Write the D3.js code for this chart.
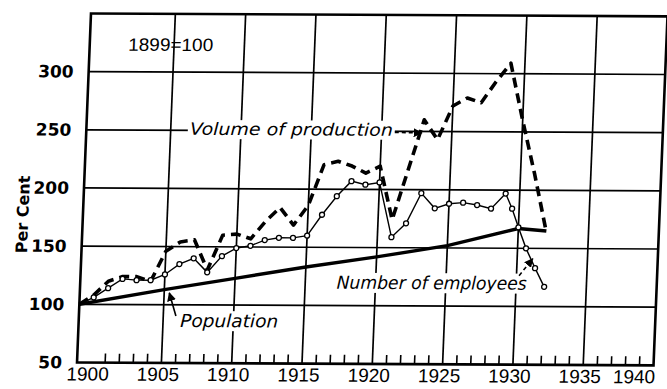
<!DOCTYPE html>
<html>
<head>
<meta charset="utf-8">
<script src="https://cdn.jsdelivr.net/npm/d3@7"></script>
<style>
  html, body { margin: 0; padding: 0; background: #fff; }
  svg { display: block; }
</style>
</head>
<body>
<svg id="chart" width="667" height="389"></svg>
<script>
// Index numbers, 1899 = 100
const years = [1899,1900,1901,1902,1903,1904,1905,1906,1907,1908,1909,1910,1911,1912,1913,1914,1915,1916,1917,1918,1919,1920,1921,1922,1923,1924,1925,1926,1927,1928,1929,1930,1931,1932];
const volume = [100,108,120,124,124,120,146,154,156,130,160,161,157,172,184,169,186,221,224,220,214,220,174,217,260,243,272,279,275,293,309,260,214,164];

const employeeYears = [1899,1900,1901,1902,1903,1904,1905,1906,1907,1908,1909,1910,1911,1912,1913,1914,1915,1916,1917,1918,1919,1920,1921,1922,1923,1924,1925,1926,1927,1928,1929,1929.5,1930,1930.6,1931.3,1932];
const employees = [100,106,114,122,121,121,126,135,140,128,142,149,151,156,158,158,160,178,194,207,204,206,159,171,197,184,188,189,187,184,197,184,168,150,133,117];

const populationYears = [1899,1905,1910,1915,1920,1925,1930,1932];
const population = [100,113,123,133,142,152,167,165];

const yTickValues = [50,100,150,200,250,300];
const xTickLabels = [1900,1905,1910,1915,1920,1925,1930,1935,1940];
const gridYears = [1905,1910,1915,1920,1925,1930,1935];
const gridValues = [100,150,200,250,300];

const svg = d3.select('#chart');
// the hand-drawn sheet leans slightly; a small shear reproduces it
const g = svg.append('g').attr('transform', 'matrix(1,0.005,-0.04,1,0,0)');

const x = d3.scaleLinear().domain([1899, 1940]).range([91.5, 668]);
const y = d3.scaleLinear().domain([50, 350]).range([362, 13]);

const plotLeft = x(1899), plotRight = x(1940), plotTop = y(350), plotBottom = y(50);

// grid
g.append('g').selectAll('line').data(gridValues).join('line')
  .attr('x1', plotLeft).attr('x2', plotRight)
  .attr('y1', d => y(d)).attr('y2', d => y(d))
  .attr('stroke', '#000').attr('stroke-width', 1.7);
g.append('g').selectAll('line').data(gridYears).join('line')
  .attr('x1', d => x(d)).attr('x2', d => x(d))
  .attr('y1', plotTop).attr('y2', plotBottom)
  .attr('stroke', '#000').attr('stroke-width', 1.7);

// yearly ticks along the base
const minorYears = d3.range(1900, 1940).filter(yr => yr % 5 !== 0);
g.append('g').selectAll('line').data(minorYears).join('line')
  .attr('x1', d => x(d)).attr('x2', d => x(d))
  .attr('y1', plotBottom).attr('y2', plotBottom - 9)
  .attr('stroke', '#000').attr('stroke-width', 1.6);

// frame
g.append('rect')
  .attr('x', plotLeft).attr('y', plotTop)
  .attr('width', plotRight - plotLeft).attr('height', plotBottom - plotTop)
  .attr('fill', 'none').attr('stroke', '#000').attr('stroke-width', 2.6);

// y tick labels
g.append('g').selectAll('text').data(yTickValues).join('text')
  .attr('x', plotLeft - 15).attr('y', d => y(d))
  .attr('text-anchor', 'end').attr('dominant-baseline', 'central')
  .attr('font-family', 'DejaVu Sans').attr('font-weight', 'bold').attr('font-size', 17)
  .text(d => d);

// x tick labels
g.append('g').selectAll('text').data(xTickLabels).join('text')
  .attr('x', d => Math.min(x(d) - 3, plotRight - 19))
  .attr('y', plotBottom + 18)
  .attr('text-anchor', 'middle')
  .attr('font-family', 'Liberation Sans').attr('font-size', 19)
  .text(d => d);

// axis title
g.append('text')
  .attr('transform', `translate(${plotLeft - 60},${y(177)}) rotate(-90)`)
  .attr('text-anchor', 'middle').attr('dominant-baseline', 'central')
  .attr('font-family', 'DejaVu Sans').attr('font-weight', 'bold').attr('font-size', 16)
  .text('Per Cent');

// series
const pts = (xs, vs) => xs.map((yr, i) => ({ yr, v: vs[i] }));
const line = d3.line().x(d => x(d.yr)).y(d => y(d.v));

g.append('path').datum(pts(years, volume))
  .attr('d', line).attr('fill', 'none')
  .attr('stroke', '#000').attr('stroke-width', 3.6)
  .attr('stroke-dasharray', '10,6').attr('stroke-linejoin', 'round');

g.append('path').datum(pts(populationYears, population))
  .attr('d', line).attr('fill', 'none')
  .attr('stroke', '#000').attr('stroke-width', 3.4).attr('stroke-linejoin', 'round');

const emp = pts(employeeYears, employees);
g.append('path').datum(emp)
  .attr('d', line).attr('fill', 'none')
  .attr('stroke', '#000').attr('stroke-width', 1.4);
g.append('g').selectAll('circle').data(emp.slice(1)).join('circle')
  .attr('cx', d => x(d.yr)).attr('cy', d => y(d.v)).attr('r', 2.5)
  .attr('fill', '#fff').attr('stroke', '#000').attr('stroke-width', 1.3);

// labels set on a white patch so the grid does not run through them
const note = (txt, tx, ty, len, size) => {
  const wrap = g.append('g');
  const bg = wrap.append('rect').attr('fill', '#fff');
  const t = wrap.append('text')
    .attr('x', tx).attr('y', ty)
    .attr('font-family', 'DejaVu Sans').attr('font-style', 'italic')
    .attr('font-size', size)
    .attr('textLength', len).attr('lengthAdjust', 'spacingAndGlyphs')
    .attr('fill', '#000')
    .text(txt);
  const b = t.node().getBBox();
  bg.attr('x', b.x - 2).attr('y', b.y + 1).attr('width', b.width + 4).attr('height', b.height - 1);
};

g.append('text')
  .attr('x', 130).attr('y', 50)
  .attr('font-family', 'Liberation Sans').attr('font-size', 18)
  .attr('textLength', 85).attr('lengthAdjust', 'spacingAndGlyphs')
  .text('1899=100');

note('Volume of production', 195, y(250) + 4.5, 203, 17);
note('Number of employees', 348, 287, 190, 18);
note('Population', 193, 326, 98, 18);

const defs = svg.append('defs');
defs.append('marker').attr('id', 'head')
  .attr('viewBox', '0 0 10 10').attr('refX', 9).attr('refY', 5)
  .attr('markerWidth', 9).attr('markerHeight', 9).attr('markerUnits', 'userSpaceOnUse')
  .attr('orient', 'auto')
  .append('path').attr('d', 'M0,0 L10,5 L0,10 Z').attr('fill', '#000');

const arrow = (x1, y1, x2, y2, dash) => g.append('line')
  .attr('x1', x1).attr('y1', y1).attr('x2', x2).attr('y2', y2)
  .attr('stroke', '#000').attr('stroke-width', 1.6)
  .attr('stroke-dasharray', dash ? '4,3' : null)
  .attr('marker-end', 'url(#head)');

arrow(400, y(250) + 1, 427, y(250) + 1.5, true);
arrow(530, 273, 543, 256, true);
arrow(188.5, 315, 181, 292, false);
</script>
</body>
</html>
